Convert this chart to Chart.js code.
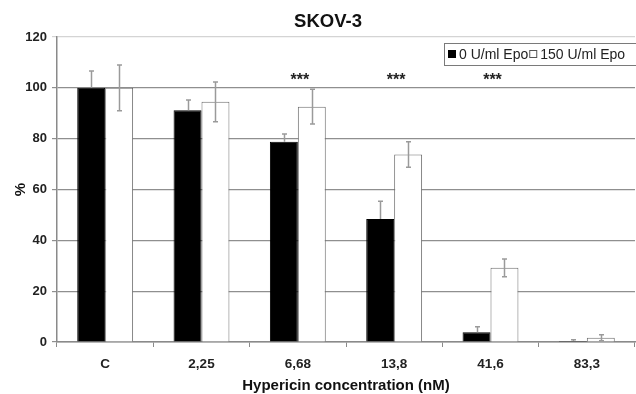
<!DOCTYPE html>
<html>
<head>
<meta charset="utf-8">
<script src="https://cdn.jsdelivr.net/npm/chart.js@4/dist/chart.umd.min.js"></script>
<style>
  html, body { margin: 0; padding: 0; background: #fff; }
  #wrap { width: 636px; height: 394px; position: relative; }
</style>
</head>
<body>
<div id="wrap"><canvas id="c" width="636" height="394"></canvas></div>
<script>
// ---- data ----
const chartTitle = 'SKOV-3';
const categories = ['C', '2,25', '6,68', '13,8', '41,6', '83,3'];
const seriesNames = ['0 U/ml Epo', '150 U/ml Epo'];
const epo0 = [100, 91.2, 78.8, 48.4, 3.8, 0.4];
const epo0Err = [6.6, 4.0, 3.0, 7.0, 2.2, 0.5];
const epo150 = [100, 94.5, 92.6, 73.8, 29.2, 1.7];
const epo150Err = [9.0, 7.8, 6.8, 5.0, 3.5, 1.2];
const significance = ['', '', '***', '***', '***', ''];
const sigLevel = 104.6;
const yTicks = [0, 20, 40, 60, 80, 100, 120];
const xTitle = 'Hypericin concentration (nM)';
const yTitle = '%';

const FONT = '"Liberation Sans", Arial, Helvetica, sans-serif';

const errorBarPlugin = {
  id: 'errorBars',
  afterDatasetsDraw(chart) {
    const ctx = chart.ctx;
    const y = chart.scales.y;
    const errs = [epo0Err, epo150Err];
    const vals = [epo0, epo150];
    ctx.save();
    ctx.strokeStyle = '#9a9a9a';
    ctx.lineWidth = 1.5;
    chart.data.datasets.forEach((ds, di) => {
      const meta = chart.getDatasetMeta(di);
      meta.data.forEach((bar, i) => {
        const v = vals[di][i], e = errs[di][i];
        const x = Math.round(bar.x) + 0.5;
        const yTop = y.getPixelForValue(v + e);
        const yBot = di === 0 ? y.getPixelForValue(v) : y.getPixelForValue(v - e);
        ctx.beginPath();
        ctx.moveTo(x, yTop); ctx.lineTo(x, yBot);
        ctx.moveTo(x - 2.5, yTop); ctx.lineTo(x + 2.5, yTop);
        if (di === 1) { ctx.moveTo(x - 2.5, yBot); ctx.lineTo(x + 2.5, yBot); }
        ctx.stroke();
      });
    });
    ctx.restore();
  }
};

const decorPlugin = {
  id: 'decor',
  afterDraw(chart) {
    const ctx = chart.ctx;
    const xs = chart.scales.x, ys = chart.scales.y;
    ctx.save();
    // title
    ctx.fillStyle = '#111';
    ctx.font = 'bold 18.5px ' + FONT;
    ctx.textAlign = 'center';
    ctx.textBaseline = 'middle';
    ctx.fillText(chartTitle, 328, 22);
    // significance marks
    ctx.font = 'bold 16px ' + FONT;
    ctx.fillStyle = '#222';
    significance.forEach((s, i) => {
      if (!s) return;
      ctx.fillText(s, xs.getPixelForValue(i) + 2, ys.getPixelForValue(sigLevel) + 4);
    });
    // legend
    const lx = 444.5, ly = 43.5, lh = 22;
    ctx.fillStyle = '#fff';
    ctx.fillRect(lx, ly, 200, lh);
    ctx.strokeStyle = '#7a7a7a';
    ctx.lineWidth = 1;
    ctx.strokeRect(lx, ly, 200, lh);
    ctx.font = '14px ' + FONT;
    ctx.textAlign = 'left';
    ctx.textBaseline = 'middle';
    let cx = 448;
    const cy = ly + lh / 2;
    chart.data.datasets.forEach((ds, di) => {
      ctx.fillStyle = ds.backgroundColor;
      ctx.fillRect(cx, cy - 4.5, 8, 8);
      ctx.strokeStyle = di === 0 ? '#000' : '#555';
      ctx.strokeRect(cx + 0.5, cy - 4, 7, 7);
      cx += 11;
      ctx.fillStyle = '#222';
      ctx.fillText(ds.label, cx, cy + 0.5);
      cx += ctx.measureText(ds.label).width + 1;
    });
    ctx.restore();
  }
};

new Chart(document.getElementById('c'), {
  type: 'bar',
  data: {
    labels: categories,
    datasets: [
      { label: seriesNames[0], data: epo0, backgroundColor: '#000', borderColor: '#000', borderWidth: 1 },
      { label: seriesNames[1], data: epo150, backgroundColor: '#fff', borderColor: '#6e6e6e', borderWidth: 1 }
    ]
  },
  options: {
    responsive: false,
    animation: false,
    devicePixelRatio: 1,
    layout: { padding: { top: 37, right: 1, left: 0, bottom: 0 } },
    datasets: { bar: { categoryPercentage: 0.58, barPercentage: 1.0 } },
    plugins: {
      legend: { display: false },
      title: { display: false },
      tooltip: { enabled: false }
    },
    scales: {
      x: {
        grid: { offset: true, drawOnChartArea: false, drawTicks: true, tickLength: 5, color: '#8a8a8a' },
        border: { color: '#8a8a8a', width: 1.5 },
        ticks: { color: '#222', padding: 9, font: { family: FONT, size: 13.5, weight: 'bold' } },
        title: { display: true, text: xTitle, color: '#111', padding: { top: 0, bottom: 1 },
                 font: { family: FONT, size: 15, weight: 'bold', lineHeight: 1.0 } },
        afterFit(s) { s.height = 52; }
      },
      y: {
        min: 0, max: 120,
        afterBuildTicks(s) { s.ticks = yTicks.map(v => ({ value: v })); },
        grid: {
          drawTicks: true, tickLength: 5, lineWidth: 1.2,
          color: (c) => (c.tick && c.tick.value === 120) ? '#d4d4d4' : '#8f8f8f'
        },
        border: { color: '#8a8a8a', width: 1.5 },
        ticks: { color: '#222', padding: 5, font: { family: FONT, size: 13, weight: 'bold' } },
        title: { display: true, text: yTitle, color: '#111', padding: { top: 12, bottom: 0 },
                 font: { family: FONT, size: 15, weight: 'bold', lineHeight: 1.2 } },
        afterFit(s) { s.width = 57; }
      }
    }
  },
  plugins: [errorBarPlugin, decorPlugin]
});
</script>
</body>
</html>
